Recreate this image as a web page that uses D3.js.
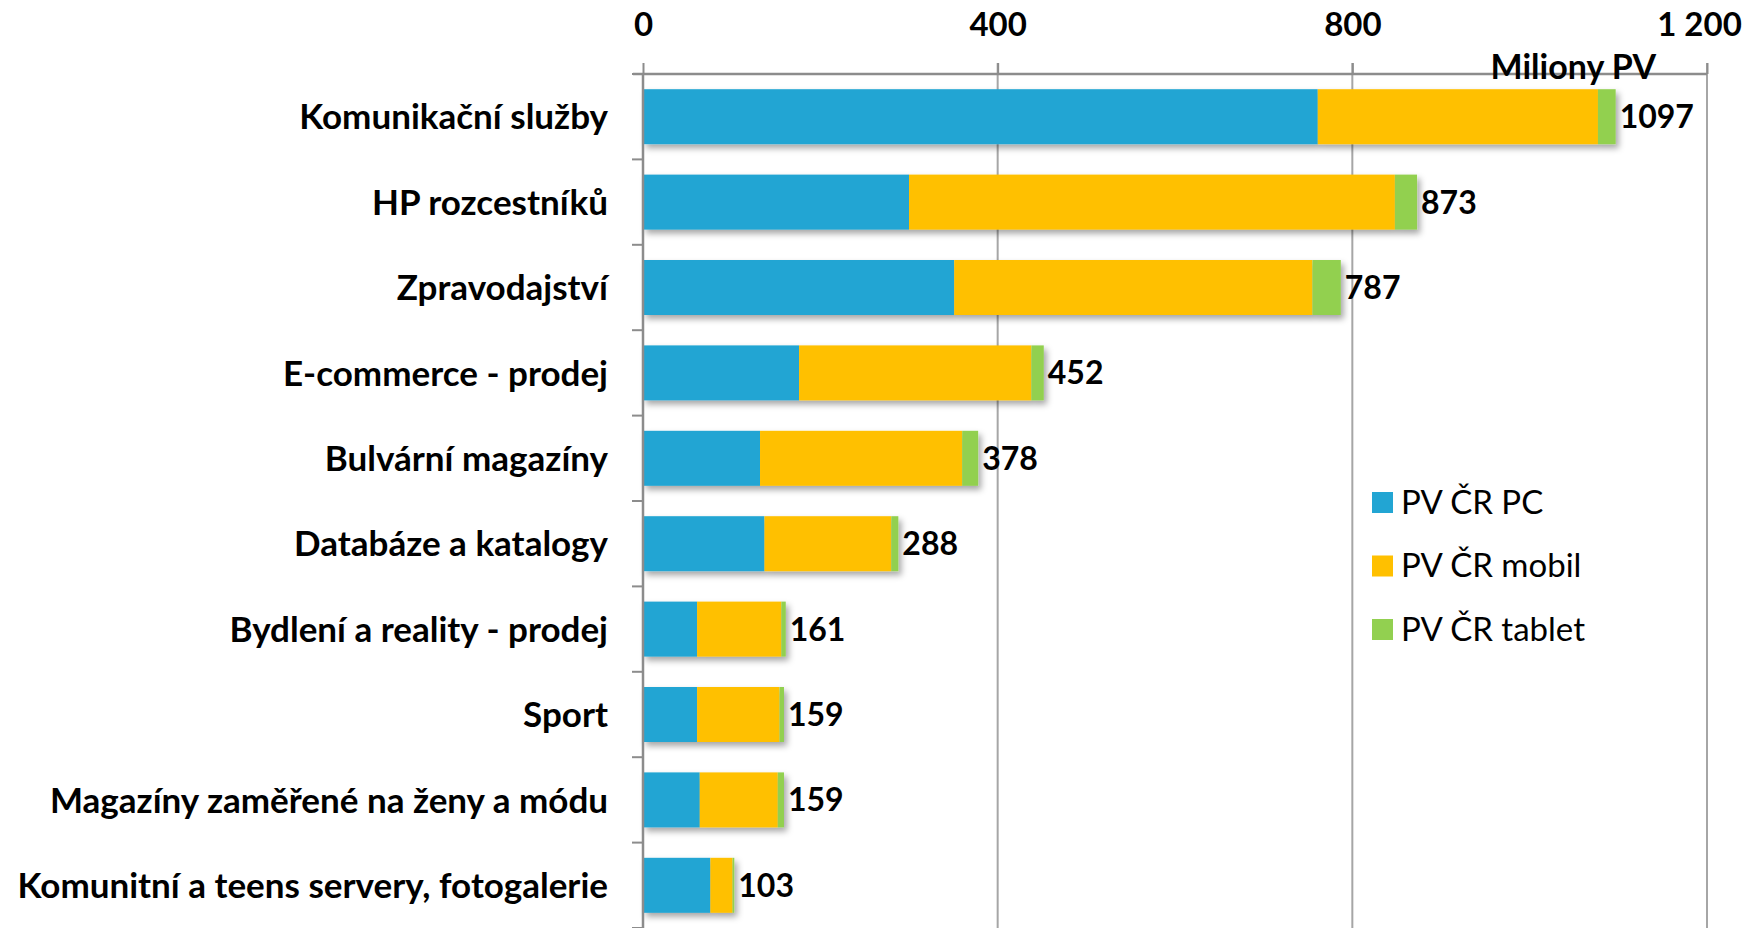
<!DOCTYPE html>
<html>
<head>
<meta charset="utf-8">
<script src="https://cdn.jsdelivr.net/npm/d3@7"></script>
<style>
  body { margin: 0; background: #fff; }
  text { font-family: Lato, "Open Sans", sans-serif; fill: #000; }
</style>
</head>
<body>
<div id="viz"></div>
<script>
var width = 1762
var height = 928

// data (miliony PV)
var categories = ["Komunikační služby", "HP rozcestníků", "Zpravodajství", "E-commerce - prodej",
    "Bulvární magazíny", "Databáze a katalogy", "Bydlení a reality - prodej", "Sport",
    "Magazíny zaměřené na ženy a módu", "Komunitní a teens servery, fotogalerie"];
var pc     = [761, 300, 351, 176, 132, 137, 61, 61, 64, 76];
var mobil  = [316, 548, 404, 262, 228, 143, 95, 93, 88, 25];
var tablet = [20, 25, 32, 14, 18, 8, 5, 5, 7, 2];
var totals = [1097, 873, 787, 452, 378, 288, 161, 159, 159, 103];
var seriesNames = ["PV ČR PC", "PV ČR mobil", "PV ČR tablet"];
var colors = ["#22a5d3", "#ffc000", "#92d050"];
var xTicks = [0, 400, 800, 1200];

var svg = d3.select("#viz")
    .append("svg")
    .attr("width", width)
    .attr("height", height);

var defs = svg.append("defs");
defs.append("filter")
    .attr("id", "shadow")
    .attr("x", "-5%").attr("y", "-20%")
    .attr("width", "115%").attr("height", "160%")
    .append("feDropShadow")
    .attr("dx", 3).attr("dy", 4)
    .attr("stdDeviation", 3)
    .attr("flood-color", "#000")
    .attr("flood-opacity", 0.35);

var x = d3.scaleLinear().domain([0, 1200]).range([643, 1707]);
var y = d3.scaleBand().domain(categories).range([74, 928]).paddingInner(0.356).paddingOuter(0.178);

// gridlines
svg.append("g")
    .selectAll("line")
    .data(xTicks.slice(1))
    .join("line")
    .attr("x1", d => x(d)).attr("x2", d => x(d))
    .attr("y1", 63).attr("y2", height)
    .attr("stroke", "#a6a6a6")
    .attr("stroke-width", 2);

// top axis
var xAxis = svg.append("g")
    .attr("transform", "translate(0,74)")
    .call(d3.axisTop(x).tickValues(xTicks).tickSize(11).tickPadding(27)
        .tickFormat(d => d3.format(",")(d).replace(",", " ")));
xAxis.select(".domain").attr("stroke", "#8c8c8c").attr("stroke-width", 2.5)
    .attr("d", "M633,0H" + x(1200));
xAxis.selectAll(".tick line").attr("stroke", "#8c8c8c").attr("stroke-width", 2);
xAxis.selectAll(".tick text")
    .style("font-family", "Lato, sans-serif")
    .style("font-size", "33px")
    .style("font-weight", "bold")
    .attr("fill", "#000");
xAxis.selectAll(".tick").filter(d => d === 1200).select("text").attr("dx", -8);

// stacked bars
var stackData = categories.map((c, i) => ({cat: c, vals: [pc[i], mobil[i], tablet[i]]}));
var bars = svg.append("g")
    .selectAll("g")
    .data(stackData)
    .join("g")
    .attr("filter", "url(#shadow)");
bars.each(function (d) {
    var acc = 0;
    var g = d3.select(this);
    d.vals.forEach(function (v, k) {
        g.append("rect")
            .attr("x", x(acc))
            .attr("y", y(d.cat))
            .attr("width", x(acc + v) - x(acc))
            .attr("height", y.bandwidth())
            .attr("fill", colors[k]);
        acc += v;
    });
});

// left axis
var step = y.step();
svg.append("line")
    .attr("x1", 643).attr("x2", 643)
    .attr("y1", 74).attr("y2", height)
    .attr("stroke", "#8c8c8c").attr("stroke-width", 2.5);
svg.append("g")
    .selectAll("line")
    .data(d3.range(categories.length + 1))
    .join("line")
    .attr("x1", 632).attr("x2", 643)
    .attr("y1", d => 74 + d * step).attr("y2", d => 74 + d * step)
    .attr("stroke", "#8c8c8c").attr("stroke-width", 2);

// category labels
svg.append("g")
    .selectAll("text")
    .data(categories)
    .join("text")
    .attr("x", 608)
    .attr("y", d => y(d) + y.bandwidth() / 2)
    .attr("dy", "0.36em")
    .attr("text-anchor", "end")
    .style("font-size", "35px")
    .style("font-weight", "bold")
    .text(d => d);

// total labels
svg.append("g")
    .selectAll("text")
    .data(categories)
    .join("text")
    .attr("x", (d, i) => x(totals[i]) + 4)
    .attr("y", d => y(d) + y.bandwidth() / 2)
    .attr("dy", "0.36em")
    .style("font-size", "32px")
    .style("font-weight", "bold")
    .text((d, i) => totals[i]);

// unit label
svg.append("text")
    .attr("x", 1656)
    .attr("y", 79)
    .attr("text-anchor", "end")
    .style("font-size", "34px")
    .style("font-weight", "bold")
    .text("Miliony PV");

// legend
var legend = svg.append("g")
    .selectAll("g")
    .data(seriesNames)
    .join("g")
    .attr("transform", (d, i) => "translate(1372," + (502 + i * 63.5) + ")");
legend.append("rect")
    .attr("x", 0).attr("y", -10)
    .attr("width", 21).attr("height", 21)
    .attr("fill", (d, i) => colors[i]);
legend.append("text")
    .attr("x", 29)
    .attr("y", 0)
    .attr("dy", "0.36em")
    .style("font-size", "33px")
    .text(d => d);
</script>
</body>
</html>
